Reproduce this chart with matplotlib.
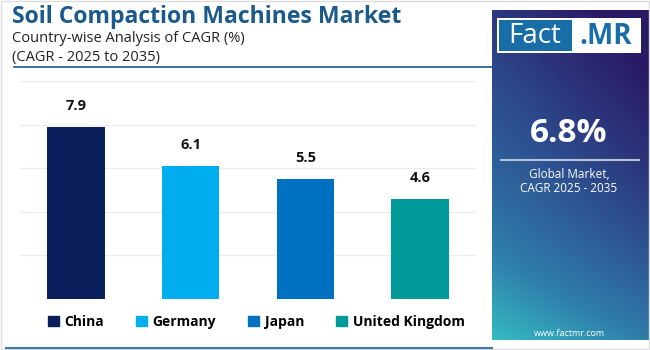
import numpy as np
import matplotlib.pyplot as plt
from matplotlib.colors import LinearSegmentedColormap
from matplotlib.patches import Rectangle

countries = ['China', 'Germany', 'Japan', 'United Kingdom']
cagr = [7.9, 6.1, 5.5, 4.6]
bar_colors = ['#0b1f5c', '#00aeef', '#0070c0', '#009a9a']
title = 'Soil Compaction Machines Market'
subtitle = 'Country-wise Analysis of CAGR (%)'
subtitle2 = '(CAGR - 2025 to 2035)'
global_cagr = '6.8%'

plt.rcParams['font.family'] = ['Open Sans', 'DejaVu Sans']

W, H = 650, 350
fig = plt.figure(figsize=(W / 100, H / 100), dpi=100)
fig.patch.set_facecolor('white')

def fx(px):
    return px / W

def fy(py):
    return 1 - py / H

# outer border
fig.add_artist(Rectangle((fx(1), fy(349)), fx(648), 348 / H, transform=fig.transFigure,
                         fill=False, edgecolor='#dddddd', lw=1))

# title block
fig.text(fx(12), fy(17), title, fontsize=16.6, fontweight='bold', color='#1b5a8c', va='center')
fig.text(fx(12), fy(38), subtitle, fontsize=10.5, color='#222222', va='center')
fig.text(fx(12), fy(57), subtitle2, fontsize=10.5, color='#222222', va='center')
fig.add_artist(plt.Line2D([fx(14), fx(492)], [fy(67), fy(67)], transform=fig.transFigure,
                          color='#1b5a8c', lw=1.2))
fig.add_artist(plt.Line2D([fx(6), fx(492)], [fy(348), fy(348)], transform=fig.transFigure,
                          color='#3a78aa', lw=1.5))

# bar chart
ax = fig.add_axes([fx(20), fy(299), fx(456), (299 - 81) / H])
x = np.arange(len(countries))
ax.bar(x, cagr, width=0.5, color=bar_colors, zorder=3)
for xi, v in zip(x, cagr):
    ax.annotate(f'{v}', (xi, v), xytext=(0, 10), textcoords='offset points',
                ha='center', va='bottom', fontsize=10.5, fontweight='bold', color='#111111')
ax.set_xlim(-0.49, 3.49)
ax.set_ylim(0, 10)
ax.set_yticks([0, 2, 4, 6, 8, 10])
ax.grid(axis='y', color='#ececec', lw=0.8, zorder=0)
ax.set_xticks([])
ax.tick_params(left=False, labelleft=False)
for s in ax.spines.values():
    s.set_visible(False)

# legend
handles = [Rectangle((0, 0), 1, 1, color=c) for c in bar_colors]
leg = fig.legend(handles, countries, loc='center', bbox_to_anchor=(fx(256), fy(322)),
                 ncol=4, frameon=False, handlelength=0.8, handleheight=0.8,
                 handletextpad=0.4, columnspacing=2.3,
                 prop={'weight': 'bold', 'size': 10})

# right panel with gradient
pax = fig.add_axes([fx(492), fy(340), fx(158), 330 / H])
cmap = LinearSegmentedColormap.from_list('panel', ['#2a1a66', '#2d4f8f', '#2f7fac', '#36c6c4'])
yy, xx = np.mgrid[0:1:200j, 0:1:100j]
t = np.clip((1 - yy) * 0.5 + (1 - xx) * 0.3 + (1 - yy) ** 3 * 0.25 - 0.1, 0, 1)
pax.imshow(t, cmap=cmap, origin='lower', extent=[0, 1, 0, 1], aspect='auto', vmin=0, vmax=1)
pax.set_xlim(0, 1)
pax.set_ylim(0, 1)
pax.axis('off')

# logo
fig.add_artist(Rectangle((fx(497), fy(53)), fx(144), 35 / H, transform=fig.transFigure,
                         facecolor='white', edgecolor='none'))
fig.add_artist(Rectangle((fx(499), fy(51)), fx(73), 31 / H, transform=fig.transFigure,
                         facecolor='#1a6ea8', edgecolor='none'))
fig.text(fx(535), fy(36), 'Fact', fontsize=20, color='white', ha='center', va='center')
fig.text(fx(606), fy(36), '.MR', fontsize=20, color='#1a6ea8', ha='center', va='center',
         fontweight='bold')

fig.text(fx(569), fy(133), global_cagr, fontsize=24, fontweight='bold', color='white',
         ha='center', va='center')
fig.add_artist(plt.Line2D([fx(501), fx(639)], [fy(160), fy(160)], transform=fig.transFigure,
                          color='#b8c0dc', lw=1.5))
fig.text(fx(569), fy(174), 'Global Market,', fontsize=8.5, color='white', ha='center', va='center')
fig.text(fx(569), fy(189), 'CAGR 2025 - 2035', fontsize=8.5, color='white', ha='center', va='center')
fig.text(fx(569), fy(334), 'www.factmr.com', fontsize=6.5, color='white', ha='center', va='center')

fig.savefig('out.png', dpi=100)
